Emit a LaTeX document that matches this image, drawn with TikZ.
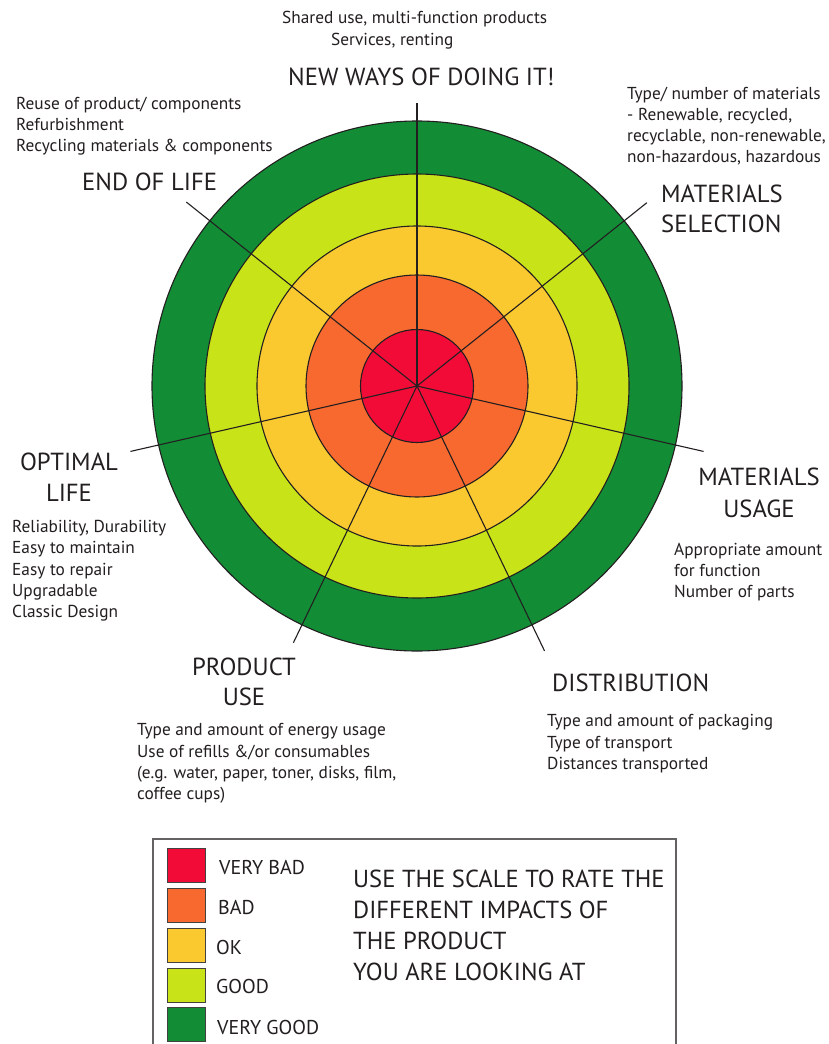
\documentclass[tikz,border=0pt]{standalone}
\usepackage{fontspec}
\setmainfont{PT Sans}
\definecolor{cvbad}{HTML}{F30B37}
\definecolor{cbad}{HTML}{F7692F}
\definecolor{cok}{HTML}{FAC930}
\definecolor{cgood}{HTML}{C9E319}
\definecolor{cvgood}{HTML}{128D36}
\definecolor{ink}{HTML}{231F20}
\begin{document}
\begin{tikzpicture}[x=1pt,y=-1pt,
  ring/.style={draw=ink, line width=1.1pt},
  spoke/.style={draw=ink, line width=1.1pt},
  head/.style={font=\fontsize{24.7}{30}\selectfont, text=ink, inner sep=0},
  body/.style={font=\fontsize{17.3}{21.3}\selectfont, text=ink, inner sep=0, align=left, anchor=north west},
  swatch/.style={draw=ink!85, line width=1pt, minimum width=38pt, minimum height=34pt, inner sep=0},
  leglabel/.style={font=\fontsize{20}{24}\selectfont, text=ink, inner sep=0, anchor=base west},
  bigtext/.style={font=\fontsize{24.6}{31}\selectfont, text=ink, inner sep=0, align=left, anchor=north west},
  frame/.style={draw=ink!70, line width=1.2pt}]
\useasboundingbox (0,0) rectangle (828,1044);
\fill[white] (0,0) rectangle (828,1044);
\coordinate (c) at (417,386);
% rings
\filldraw[ring, fill=cvgood] (c) circle[radius=265pt];
\filldraw[ring, fill=cgood] (c) circle[radius=212pt];
\filldraw[ring, fill=cok] (c) circle[radius=160pt];
\filldraw[ring, fill=cbad] (c) circle[radius=111pt];
\filldraw[ring, fill=cvbad] (c) circle[radius=56.5pt];
% spoke ends
\path (c) ++(-90:283) coordinate (eNew);
\path (c) ++(-38.57:294) coordinate (eSel);
\path (c) ++(12.86:294) coordinate (eUse);
\path (c) ++(64.29:294) coordinate (eDist);
\path (c) ++(115.71:285) coordinate (eProd);
\path (c) ++(167.14:294) coordinate (eOpt);
\path (c) ++(-141.43:295) coordinate (eEnd);
\foreach \e in {eNew,eSel,eUse,eDist,eProd,eOpt,eEnd}
  \draw[spoke] (c) -- (\e);
% headings
\node[head, anchor=base west] (hNew) at (288,85) {NEW WAYS OF DOING IT!};
\node[head, anchor=base west] (hEnd) at (82,190) {END OF LIFE};
\node[head, anchor=base west] (hSel1) at (661,202) {MATERIALS};
\node[head, anchor=base west] (hSel2) at (661,232) {SELECTION};
\node[head, anchor=base] (hOpt1) at (69,470) {OPTIMAL};
\node[head, anchor=base] (hOpt2) at (69,501) {LIFE};
\node[head, anchor=base] (hUse1) at (759,485) {MATERIALS};
\node[head, anchor=base] (hUse2) at (759,517) {USAGE};
\node[head, anchor=base] (hProd1) at (244,675) {PRODUCT};
\node[head, anchor=base] (hProd2) at (244,705) {USE};
\node[head, anchor=base west] (hDist) at (552,691) {DISTRIBUTION};
% body texts
\node[body] (bShared) at (282,11) {Shared use, multi-function products};
\node[body] (bServ) at (331,32.5) {Services, renting};
\node[body] (bEnd) at (16,96.5) {Reuse of product/ components\\Refurbishment\\Recycling materials \& components};
\node[body] (bSel) at (627,86.5) {Type/ number of materials\\- Renewable, recycled,\\recyclable, non-renewable,\\non-hazardous, hazardous};
\node[body] (bOpt) at (12,520) {Reliability, Durability\\Easy to maintain\\Easy to repair\\Upgradable\\Classic Design};
\node[body] (bUse) at (674,542.5) {Appropriate amount\\for function\\Number of parts};
\node[body] (bProd) at (137,723.5) {Type and amount of energy usage\\Use of refills \&/or consumables\\(e.g. water, paper, toner, disks, film,\\coffee cups)};
\node[body] (bDist) at (547,714.5) {Type and amount of packaging\\Type of transport\\Distances transported};
% legend
\draw[frame] (153,1050) |- (676,839) -- (676,1050);
\node[swatch, fill=cvbad] (s1) at (186,865) {};
\node[swatch, fill=cbad] (s2) at (186,905) {};
\node[swatch, fill=cok] (s3) at (186,945) {};
\node[swatch, fill=cgood] (s4) at (186,985) {};
\node[swatch, fill=cvgood] (s5) at (186,1024) {};
\node[leglabel] (l1) at (219,874) {VERY BAD};
\node[leglabel] (l2) at (218,914) {BAD};
\node[leglabel] (l3) at (216,954) {OK};
\node[leglabel] (l4) at (216,993) {GOOD};
\node[leglabel] (l5) at (217,1034) {VERY GOOD};
\node[bigtext] (big) at (353,869.5) {USE THE SCALE TO RATE THE\\DIFFERENT IMPACTS OF\\THE PRODUCT\\YOU ARE LOOKING AT};
\end{tikzpicture}
\end{document}
